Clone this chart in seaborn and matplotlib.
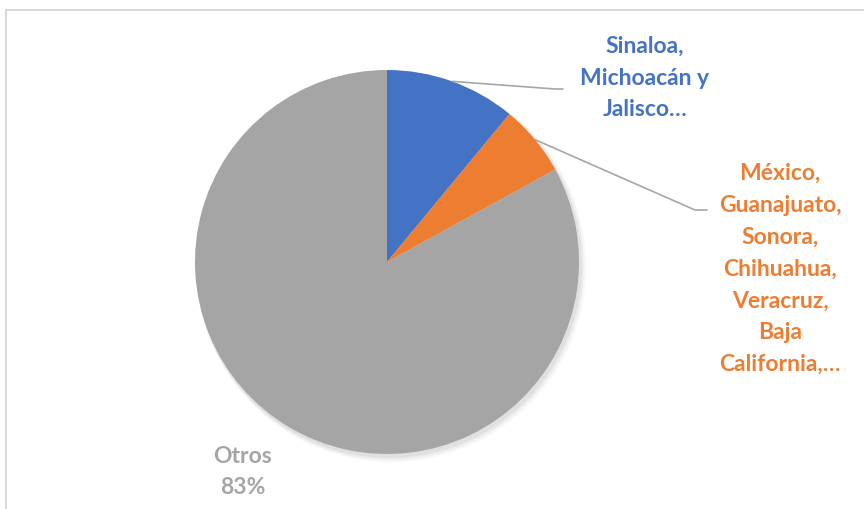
import numpy as np
import matplotlib
matplotlib.use("Agg")
import matplotlib.pyplot as plt
import seaborn as sns
from matplotlib.patches import Rectangle, Circle

categories = ["Sinaloa,\nMichoacán y\nJalisco…",
              "México,\nGuanajuato,\nSonora,\nChihuahua,\nVeracruz,\nBaja\nCalifornia,…",
              "Otros\n83%"]
values = [11, 6, 83]
colors = ["#4472C4", "#ED7D31", "#A5A5A5"]

sns.set_theme(style="white")
plt.rcParams['font.family'] = ['Lato', 'DejaVu Sans']

W, H = 864, 509
fig = plt.figure(figsize=(W/100, H/100), dpi=100)
ax = fig.add_axes([0, 0, 1, 1])
ax.set_xlim(0, W)
ax.set_ylim(0, H)
ax.axis("off")

cx, cy, R = 387, H - 262, 192

# subtle shadow
for i, a in enumerate([0.05, 0.04, 0.03]):
    ax.add_patch(Circle((cx + 2 + i, cy - 3 - i), R + 1 + i, color="black",
                        alpha=a, lw=0, zorder=0))

wedges, _ = ax.pie(values, colors=sns.color_palette(colors), startangle=90,
                   counterclock=False, center=(cx, cy), radius=R,
                   wedgeprops=dict(linewidth=0))
ax.set_xlim(0, W)
ax.set_ylim(0, H)
ax.set_aspect("equal")

# frame
fig.patches.append(Rectangle((6/W, 0 - 0.1), 1.2, (H - 10)/H + 0.1,
                             transform=fig.transFigure, fill=False,
                             edgecolor="#D9D9D9", lw=1.5))

def mid_point(w, r):
    ang = np.deg2rad((w.theta1 + w.theta2) / 2)
    return cx + r*np.cos(ang), cy + r*np.sin(ang)

fs = 16.5
ls = 1.64
tk = dict(fontsize=fs, fontweight="bold", ha="center", va="center", linespacing=ls)
# label 1
x0, y0 = mid_point(wedges[0], R)
ax.plot([x0, 555, 563], [y0, H - 89, H - 89], color="#A6A6A6", lw=1.2)
ax.text(645, H - 78, categories[0], color=colors[0], **tk)
# label 2
x0, y0 = mid_point(wedges[1], R)
ax.plot([x0, 695, 707], [y0, H - 210, H - 210], color="#A6A6A6", lw=1.2)
ax.text(780, H - 269, categories[1], color=colors[1], **tk)
# label 3
ax.text(243, H - 472, categories[2], color=colors[2], **tk)

fig.savefig("out.png", dpi=100)
